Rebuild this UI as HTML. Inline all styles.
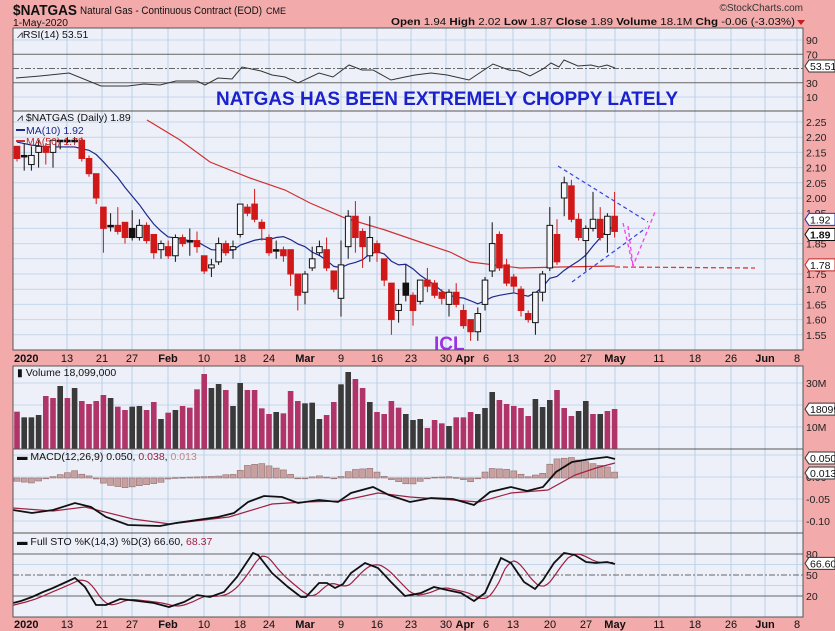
<!DOCTYPE html>
<html><head><meta charset="utf-8"><style>
html,body{margin:0;padding:0;background:#f2aaaa;}
svg{display:block;font-family:"Liberation Sans",sans-serif;}
</style></head><body>
<svg id="s" width="835" height="631" viewBox="0 0 835 631" xmlns="http://www.w3.org/2000/svg">
<rect width="835" height="631" fill="#f2aaaa"/>
<text x="13" y="15" font-size="15" font-weight="bold" fill="#111" textLength="64" lengthAdjust="spacingAndGlyphs">$NATGAS</text>
<text x="80" y="14" font-size="11" fill="#111" textLength="182" lengthAdjust="spacingAndGlyphs">Natural Gas - Continuous Contract (EOD)</text>
<text x="266" y="14" font-size="9" fill="#111">CME</text>
<text x="13" y="26" font-size="10" fill="#111" textLength="55" lengthAdjust="spacingAndGlyphs">1-May-2020</text>
<text x="803" y="11" font-size="10" fill="#333" text-anchor="end">©StockCharts.com</text>
<text x="391" y="25" font-size="10.5" fill="#111" textLength="404" lengthAdjust="spacingAndGlyphs"><tspan font-weight="bold">Open</tspan> 1.94 <tspan font-weight="bold">High</tspan> 2.02 <tspan font-weight="bold">Low</tspan> 1.87 <tspan font-weight="bold">Close</tspan> 1.89 <tspan font-weight="bold">Volume</tspan> 18.1M <tspan font-weight="bold">Chg</tspan> -0.06 (-3.03%)</text>
<polygon points="797,20 805,20 801,25" fill="#c02020"/>
<g id="g"></g>
</svg>
<script>
const NS="http://www.w3.org/2000/svg",G=document.getElementById('g');
function el(t,a,txt){const e=document.createElementNS(NS,t);for(const k in a)e.setAttribute(k,a[k]);if(txt!==undefined)e.textContent=txt;G.appendChild(e);return e;}
const L=13,R=803;
const X=i=>17+i*7.2;
const dates=[[14,'2020',1],[67,'13'],[102,'21'],[132,'27'],[168,'Feb',1],[204,'10'],[240,'18'],[269,'24'],[305,'Mar',1],[341,'9'],[377,'16'],[411,'23'],[446,'30'],[465,'Apr',1],[486,'6'],[513,'13'],[550,'20'],[586,'27'],[615,'May',1],[659,'11'],[695,'18'],[731,'26'],[765,'Jun',1],[797,'8']];
function panel(y0,y1,hlines){
 el('rect',{x:L,y:y0,width:R-L,height:y1-y0,fill:'#eef0f9'});
 hlines.forEach(y=>el('line',{x1:L,x2:R,y1:y,y2:y,stroke:'#c4d6ea','stroke-width':1}));
 dates.forEach(d=>{if(d[0]>L+2&&d[0]<R)el('line',{x1:d[0],x2:d[0],y1:y0,y2:y1,stroke:'#b8d0e8','stroke-width':1})});
}
function border(y0,y1){el('rect',{x:L,y:y0,width:R-L,height:y1-y0,fill:'none',stroke:'#555','stroke-width':1});}
function axisRow(y){dates.forEach(d=>el('text',{x:d[0],y:y,'font-size':11,'font-weight':d[2]?'bold':'normal','text-anchor':d[0]<20?'start':'middle',fill:'#111'},d[1]));}
function lab(y,t){el('text',{x:806,y:y+4,'font-size':10.5,fill:'#222'},t);}
function box(y,t,c,b){el('path',{d:`M805 ${y} l4 -6 h26 v12 h-26 z`,fill:'#fff',stroke:c,'stroke-width':1});el('text',{x:810,y:y+4,'font-size':10.5,fill:'#111','font-weight':b?'bold':'normal'},t);}
function poly(pts,c,w,dash){el('polyline',{points:pts.map(p=>p.join(',')).join(' '),fill:'none',stroke:c,'stroke-width':w||1,'stroke-dasharray':dash||'none'});}

// RSI
const ry=v=>97-(v-10)*0.7125;
panel(28,111,[ry(90),ry(10)]);
el('line',{x1:L,x2:R,y1:ry(70),y2:ry(70),stroke:'#666'});
el('line',{x1:L,x2:R,y1:ry(30),y2:ry(30),stroke:'#666'});
el('line',{x1:L,x2:R,y1:ry(50),y2:ry(50),stroke:'#666','stroke-dasharray':'6,2,2,2'});
poly([[16,78],[40,76],[69,73],[101,86],[128,86],[144,84],[160,85],[176,81],[197,81],[205,85],[218,78],[232,79],[242,67],[261,71],[272,75],[285,77],[298,83],[319,73],[333,77],[349,65],[362,70],[373,70],[391,80],[405,77],[415,75],[431,73],[447,75],[469,80],[493,64],[509,70],[519,71],[530,76],[543,69],[551,63],[559,67],[564,60],[578,66],[591,65],[599,67],[607,65],[615,68]],'#333',1);
border(28,111);
el('text',{x:17,y:38,'font-size':10.5,fill:'#111'},'⩘RSI(14) 53.51');
[[90,'90'],[70,'70'],[30,'30'],[10,'10']].forEach(a=>lab(ry(a[0]),a[1]));
box(ry(53.51),'53.51','#333');
el('text',{x:216,y:105,'font-size':19,'font-weight':'bold',fill:'#1a22cc',textLength:462,lengthAdjust:'spacingAndGlyphs'},'NATGAS HAS BEEN EXTREMELY CHOPPY LATELY');

// Price
const py=p=>122+(2.25-p)/0.05*15.2;
const hl=[];for(let p=1.5;p<=2.26;p+=0.05)hl.push(py(p));
panel(111,350,hl);
const D=[[2.17,2.13,2.17,2.12,'r'],[2.14,2.14,2.18,2.09,'b'],[2.11,2.14,2.17,2.09,'h'],[2.15,2.17,2.19,2.10,'h'],[2.17,2.15,2.18,2.11,'r'],[2.15,2.19,2.19,2.10,'h'],[2.19,2.19,2.19,2.16,'b'],[2.19,2.19,2.20,2.18,'b'],[2.19,2.19,2.20,2.18,'b'],[2.19,2.13,2.20,2.12,'r'],[2.13,2.08,2.14,2.07,'r'],[2.08,2.00,2.08,1.98,'r'],[1.97,1.90,1.97,1.82,'r'],[1.91,1.91,1.95,1.89,'b'],[1.91,1.89,1.97,1.88,'r'],[1.92,1.87,1.92,1.85,'r'],[1.87,1.90,1.96,1.86,'b'],[1.87,1.91,1.93,1.86,'h'],[1.91,1.86,1.92,1.85,'r'],[1.88,1.82,1.88,1.80,'r'],[1.83,1.85,1.86,1.80,'h'],[1.84,1.81,1.86,1.80,'r'],[1.81,1.87,1.88,1.79,'h'],[1.87,1.85,1.88,1.84,'r'],[1.86,1.86,1.90,1.81,'b'],[1.86,1.84,1.89,1.82,'r'],[1.81,1.76,1.81,1.75,'r'],[1.77,1.78,1.80,1.74,'h'],[1.79,1.85,1.87,1.78,'h'],[1.85,1.82,1.86,1.81,'r'],[1.83,1.84,1.86,1.80,'h'],[1.88,1.98,1.98,1.87,'h'],[1.97,1.95,1.98,1.94,'r'],[1.98,1.93,2.03,1.92,'r'],[1.92,1.90,1.93,1.86,'r'],[1.87,1.82,1.88,1.81,'r'],[1.83,1.83,1.86,1.80,'b'],[1.83,1.81,1.84,1.79,'r'],[1.83,1.75,1.83,1.71,'r'],[1.75,1.68,1.75,1.63,'r'],[1.69,1.75,1.76,1.65,'h'],[1.77,1.80,1.84,1.76,'h'],[1.82,1.84,1.86,1.81,'h'],[1.83,1.77,1.87,1.76,'r'],[1.76,1.70,1.76,1.69,'r'],[1.67,1.78,1.86,1.61,'h'],[1.84,1.94,1.96,1.80,'h'],[1.94,1.87,1.99,1.82,'r'],[1.89,1.84,1.90,1.77,'r'],[1.81,1.87,1.94,1.79,'h'],[1.85,1.82,1.86,1.79,'r'],[1.80,1.73,1.80,1.71,'r'],[1.72,1.60,1.72,1.55,'r'],[1.63,1.65,1.70,1.59,'h'],[1.68,1.72,1.78,1.66,'b'],[1.68,1.63,1.69,1.58,'r'],[1.66,1.73,1.73,1.65,'h'],[1.73,1.71,1.77,1.69,'r'],[1.72,1.68,1.73,1.67,'r'],[1.69,1.67,1.70,1.65,'r'],[1.65,1.69,1.70,1.61,'h'],[1.69,1.65,1.72,1.64,'r'],[1.63,1.58,1.65,1.57,'r'],[1.60,1.56,1.60,1.53,'r'],[1.56,1.62,1.64,1.53,'h'],[1.65,1.73,1.74,1.63,'h'],[1.76,1.85,1.92,1.74,'h'],[1.88,1.77,1.89,1.76,'r'],[1.78,1.72,1.80,1.71,'r'],[1.74,1.71,1.75,1.69,'r'],[1.70,1.63,1.71,1.61,'r'],[1.62,1.60,1.63,1.59,'r'],[1.59,1.69,1.69,1.55,'h'],[1.69,1.75,1.76,1.66,'h'],[1.77,1.91,1.97,1.76,'h'],[1.88,1.79,1.93,1.78,'r'],[2.00,2.05,2.07,1.94,'h'],[2.04,1.93,2.06,1.92,'r'],[1.93,1.87,1.95,1.86,'r'],[1.86,1.90,1.91,1.76,'h'],[1.90,1.93,2.02,1.89,'h'],[1.93,1.87,1.97,1.86,'r'],[1.88,1.94,1.95,1.82,'h'],[1.94,1.89,2.02,1.87,'r']];
poly([[147,120],[180,140],[210,162],[250,178],[285,190],[310,203],[345,218],[385,230],[420,242],[450,252],[470,262],[520,268],[560,267],[615,266]],'#d03030',1.2);
el('line',{x1:615,y1:267,x2:755,y2:268,stroke:'#e03a3a','stroke-width':1.3,'stroke-dasharray':'5,3'});
const ma=[];for(let i=0;i<D.length;i++){let s=0,n=0;for(let j=Math.max(0,i-9);j<=i;j++){s+=D[j][1];n++;}const pre=Math.max(0,10-n);s+=pre*2.19;ma.push(s/10);}
poly(ma.map((v,i)=>[X(i),py(v)]),'#1c2a8a',1.2);
D.forEach((d,i)=>{const x=X(i),[o,c,h,l,t]=d;const col=t=='r'?'#d01818':'#111';
 el('line',{x1:x,x2:x,y1:py(h),y2:py(l),stroke:col,'stroke-width':1});
 const top=py(Math.max(o,c)),bot=py(Math.min(o,c));const hh=Math.max(1.5,bot-top);
 el('rect',{x:x-2.8,y:top,width:5.6,height:hh,fill:t=='h'?'#f4f6fc':col,stroke:col,'stroke-width':1});});
el('line',{x1:558,y1:166,x2:648,y2:222,stroke:'#3344dd','stroke-width':1.2,'stroke-dasharray':'4,3'});
el('line',{x1:572,y1:282,x2:646,y2:228,stroke:'#3344dd','stroke-width':1.2,'stroke-dasharray':'4,3'});
poly([[623,223],[633,266],[655,212]],'#ee44ee',1.3,'4,3');
el('line',{x1:628,y1:226,x2:633,y2:266,stroke:'#ee44ee','stroke-width':1.3,'stroke-dasharray':'4,3'});
el('text',{x:434,y:350,'font-size':19,'font-weight':'bold',fill:'#9a30e8'},'ICL');
border(111,350);
el('text',{x:17,y:121,'font-size':10.5,fill:'#111'},'⩘ $NATGAS (Daily) 1.89');
el('line',{x1:16,x2:25,y1:130,y2:130,stroke:'#1c2a8a','stroke-width':2});
el('text',{x:26,y:134,'font-size':10.5,fill:'#1c2a8a'},'MA(10) 1.92');
el('line',{x1:16,x2:25,y1:141,y2:141,stroke:'#d03030','stroke-width':2});
el('text',{x:26,y:145,'font-size':10.5,fill:'#c02828'},'MA(50) 1.78');
for(let k=0;k<=14;k++){const p=2.25-k*0.05;if(Math.abs(p-1.8)<.01||Math.abs(p-1.9)<.01)continue;lab(py(p),p.toFixed(2));}
box(py(1.92)-3,'1.92','#2233aa');box(py(1.89)+3,'1.89','#111',1);box(py(1.78),'1.78','#c02828');
axisRow(362);

// Volume
const vy=v=>449-v*2.2;
panel(366,449,[vy(10),vy(20),vy(30)]);
const VT=[155,172,172,165,108,114,78,114,84,123,132,123,105,114,140,150,140,138,150,126,177,158,150,138,143,88,42,84,72,90,138,69,90,90,145,162,156,160,93,123,130,128,177,165,126,73,36,57,84,126,156,162,123,143,162,180,177,204,180,190,198,172,172,156,162,144,96,120,132,138,144,168,117,141,120,90,144,168,153,123,162,162,153,147];
const VC='rbbbrrbrbrrrrbrrbbrrbrbrrrrbbrbbrrrrbrrrbbbrrbbrrbrrrrbbbrrrbrrrbbbrrrrrbbbrrrbbrbr';
VT.forEach((z,i)=>{const y=360+z/3;el('rect',{x:X(i)-2.8,y:y,width:5.6,height:449-y,fill:VC[i]=='b'?'#3a3a3a':'#b03468'});});
border(366,449);
el('text',{x:17,y:376,'font-size':10.5,fill:'#111'},'▮ Volume 18,099,000');
lab(vy(30),'30M');lab(vy(10),'10M');box(vy(18.1),'18099','#333');

// MACD
const my=v=>477-v*440;
panel(449,533,[my(0.05),my(0),my(-0.05),my(-0.10)]);
const M=[[13,510],[32,513],[53,510],[75,503],[91,507],[106,517],[128,525],[160,526],[176,523],[197,520],[218,517],[234,513],[248,502],[264,496],[282,497],[298,503],[319,500],[338,502],[351,493],[373,487],[389,495],[410,502],[431,498],[453,499],[474,505],[490,492],[511,487],[527,491],[543,487],[556,472],[572,462],[591,459],[607,457],[615,459]];
const S=[[13,508],[53,511],[85,507],[133,519],[170,524],[229,517],[272,504],[304,502],[341,501],[378,493],[410,497],[453,500],[479,502],[511,493],[548,490],[575,475],[596,468],[615,463]];
function interp(P,x){for(let k=0;k<P.length-1;k++){if(x<=P[k+1][0]){const t=(x-P[k][0])/(P[k+1][0]-P[k][0]);return P[k][1]+t*(P[k+1][1]-P[k][1]);}}return P[P.length-1][1];}
for(let i=0;i<84;i++){const x=X(i);const h=(interp(S,x)-interp(M,x))*1.4;const y0=478;
 el('rect',{x:x-3,y:Math.min(y0,y0-h),width:6,height:Math.max(0.8,Math.abs(h)),fill:'#c8a0a0',stroke:'#907070','stroke-width':0.6});}
poly(S,'#a02040',1.2);poly(M,'#111',1.8);
border(449,533);
el('text',{x:17,y:460,'font-size':10.5,fill:'#111'},'').innerHTML='▬ MACD(12,26,9) 0.050, <tspan fill="#a02040">0.038</tspan>, <tspan fill="#c08888">0.013</tspan>';
lab(my(-0.05),'-0.05');lab(my(-0.10),'-0.10');lab(my(0),'0.00');
box(458,'0.050','#333');box(473,'0.013','#333');

// STO
const sy=v=>610-v*0.7;
panel(533,617,[sy(65),sy(35)]);
el('line',{x1:L,x2:R,y1:sy(80),y2:sy(80),stroke:'#666'});
el('line',{x1:L,x2:R,y1:sy(20),y2:sy(20),stroke:'#666'});
el('line',{x1:L,x2:R,y1:sy(50),y2:sy(50),stroke:'#666','stroke-dasharray':'6,2,2,2'});
const K=[[13,603],[21,601],[32,597],[43,592],[53,588],[64,583],[75,578],[85,587],[96,605],[106,605],[120,599],[138,601],[154,603],[169,607],[184,602],[197,595],[210,597],[224,592],[237,577],[253,553],[258,555],[272,573],[288,587],[301,597],[306,597],[319,583],[327,583],[335,588],[343,584],[351,573],[365,563],[378,568],[391,582],[405,596],[421,593],[434,587],[447,590],[461,593],[474,601],[485,593],[501,558],[511,563],[524,582],[535,589],[543,580],[554,563],[564,553],[575,555],[586,562],[596,563],[607,562],[615,564]];
const Dp=[];for(let x=13;x<=615;x+=3){Dp.push([x,(interp(K,x-4)+interp(K,x-9)+interp(K,x-14))/3]);}
poly(Dp,'#a02040',1.2);poly(K,'#111',1.8);
border(533,617);
el('text',{x:17,y:545,'font-size':10.5,fill:'#111'},'').innerHTML='▬ Full STO %K(14,3) %D(3) 66.60, <tspan fill="#a02040">68.37</tspan>';
lab(sy(80),'80');lab(sy(50),'50');lab(sy(20),'20');box(sy(66.6),'66.60','#333');
axisRow(628);
</script>
</body></html>
